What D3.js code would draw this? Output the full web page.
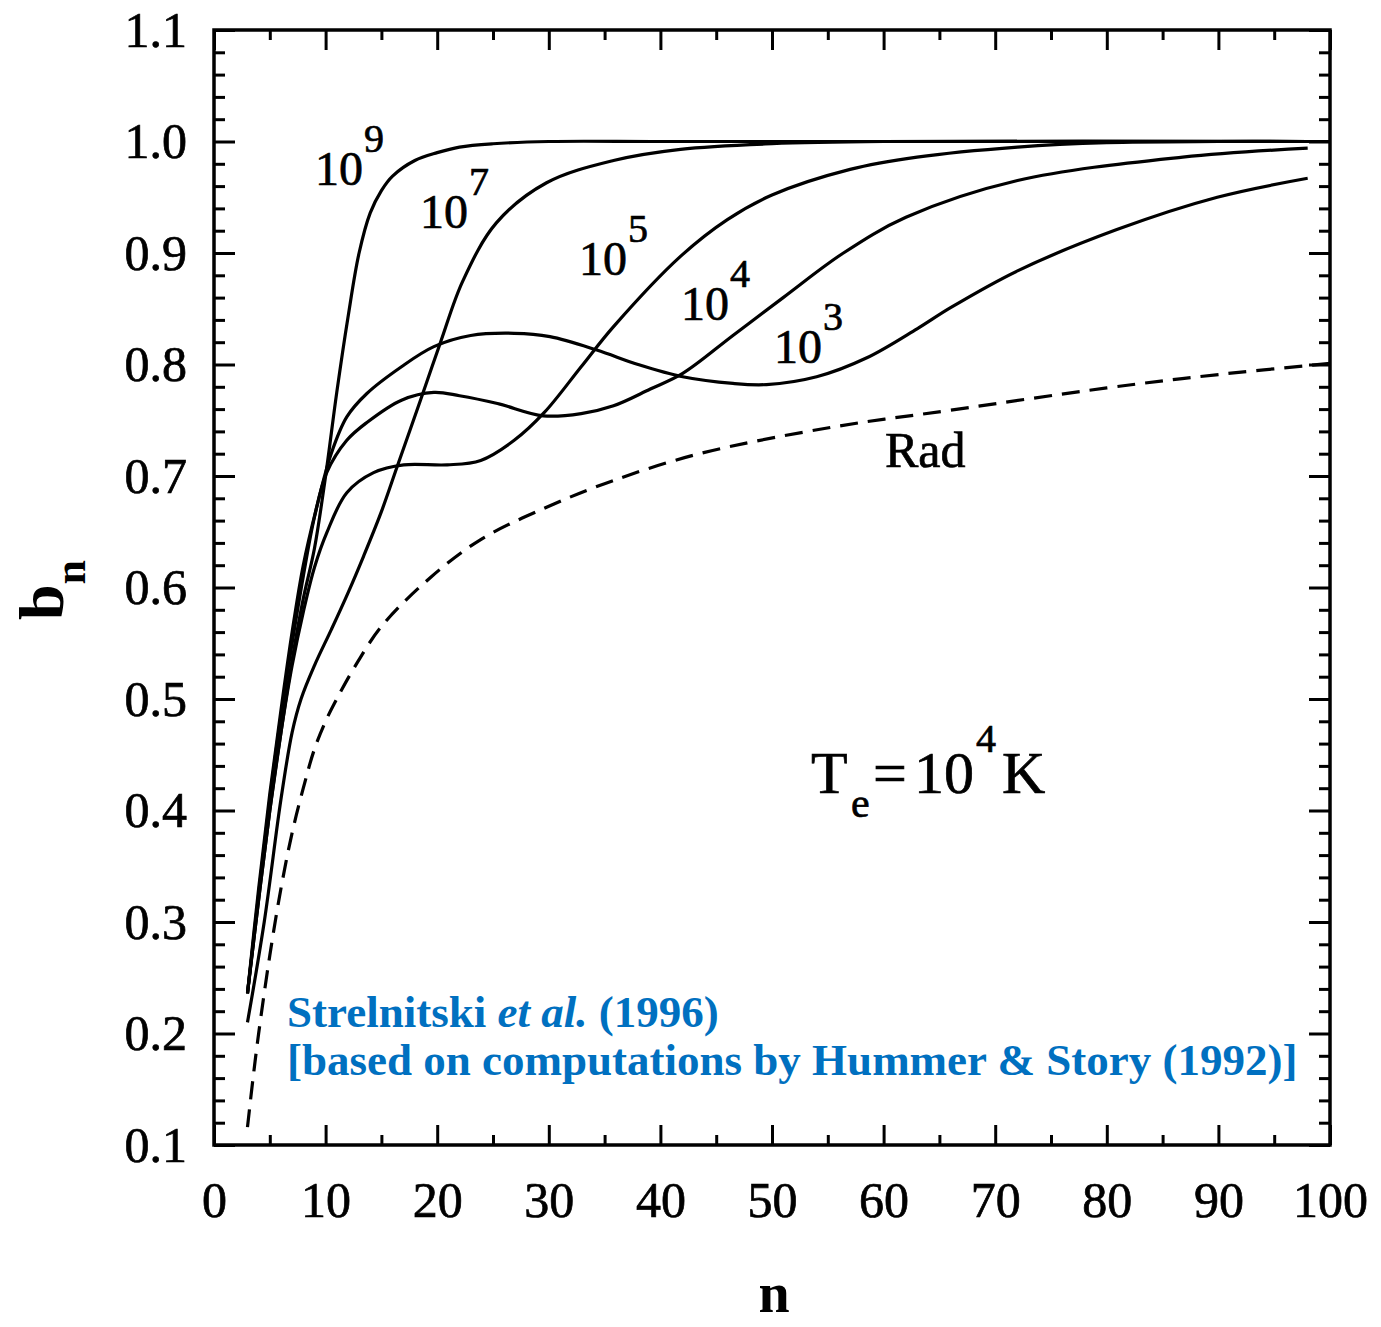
<!DOCTYPE html>
<html lang="en">
<head>
<meta charset="UTF-8">
<title>b_n vs n</title>
<script src="https://cdn.jsdelivr.net/npm/d3@7"></script>
<style>
  body { margin: 0; background: #fff; }
  text { font-family: "Liberation Serif", "Times New Roman", serif; }
  .ink { stroke: #000; stroke-width: 0.7px; }
</style>
</head>
<body>
<div id="chart"></div>
<script>
// curve data (n, b_n)
const n9 = [3, 4, 5, 6, 7, 8, 9, 10, 11, 12, 13, 14, 15, 16, 18, 20, 22, 25, 30, 40, 60, 100];
const b9 = [0.236, 0.32, 0.40, 0.47, 0.535, 0.59, 0.635, 0.70, 0.775, 0.842, 0.9, 0.936, 0.956, 0.969, 0.983, 0.99, 0.995, 0.998, 1.0, 1.0, 1.0, 1.0];

const n7 = [3, 4.5, 6, 7, 7.8, 9, 10.5, 12, 13.4, 15, 16.4, 18.5, 20.3, 22.3, 25.3, 29.8, 35.8, 41.8, 50, 60, 98];
const b7 = [0.21, 0.30, 0.41, 0.47, 0.50, 0.53, 0.562, 0.595, 0.628, 0.668, 0.708, 0.768, 0.82, 0.875, 0.927, 0.963, 0.983, 0.993, 0.998, 1.0, 1.0];

const n5 = [3, 4, 5, 6, 7, 8, 9, 10.1, 11.9, 14.3, 17, 20.9, 23.9, 26.9, 29.6, 32.9, 35.8, 41.8, 46, 50, 57, 63, 72, 80, 90, 98];
const b5 = [0.236, 0.32, 0.40, 0.47, 0.53, 0.578, 0.618, 0.649, 0.685, 0.703, 0.71, 0.71, 0.714, 0.732, 0.757, 0.798, 0.834, 0.897, 0.93, 0.952, 0.975, 0.986, 0.995, 0.999, 1.0, 1.0];

const n4 = [3, 4, 5, 6, 7, 8, 9, 10.1, 11.9, 13.7, 16.8, 19.7, 22, 25.4, 29.5, 32.9, 35.8, 39.1, 42, 46.5, 51, 56.4, 62, 72, 86.8, 98];
const b4 = [0.236, 0.325, 0.41, 0.485, 0.55, 0.61, 0.663, 0.703, 0.732, 0.748, 0.768, 0.775, 0.772, 0.765, 0.754, 0.756, 0.763, 0.778, 0.792, 0.826, 0.86, 0.9, 0.932, 0.965, 0.986, 0.994];

const n3 = [3, 4, 5, 6, 7, 8, 9.2, 10.5, 11.9, 13.7, 16.8, 19.7, 23, 26.9, 30.1, 34.3, 38, 42, 46.5, 49.5, 54, 58.5, 63, 66, 72, 80.9, 89.9, 98];
const b3 = [0.236, 0.33, 0.415, 0.49, 0.56, 0.62, 0.672, 0.72, 0.753, 0.774, 0.798, 0.816, 0.826, 0.828, 0.825, 0.813, 0.80, 0.789, 0.783, 0.782, 0.789, 0.806, 0.832, 0.851, 0.884, 0.921, 0.95, 0.967];

const nRad = [3, 3.5, 4, 5, 6, 7, 8, 9, 10, 11, 12.5, 15, 19.4, 23.9, 29.8, 35.8, 43.5, 55.5, 66, 80, 90, 100];
const bRad = [0.116, 0.16, 0.2, 0.27, 0.33, 0.38, 0.42, 0.455, 0.48, 0.50, 0.527, 0.565, 0.609, 0.643, 0.672, 0.696, 0.72, 0.744, 0.759, 0.779, 0.791, 0.801];

const xTicks = [0, 10, 20, 30, 40, 50, 60, 70, 80, 90, 100];
const yTicks = [0.1, 0.2, 0.3, 0.4, 0.5, 0.6, 0.7, 0.8, 0.9, 1.0, 1.1];

const W = 1381, H = 1327;
const svg = d3.select("#chart").append("svg")
    .attr("width", W)
    .attr("height", H);

const x = d3.scaleLinear().domain([0, 100]).range([214, 1330]);
const y = d3.scaleLinear().domain([0.1, 1.1]).range([1145, 30]);

// minor ticks
const xMinor = d3.range(5, 100, 10);
const yMinor = d3.range(0.12, 1.1, 0.02).filter(v => Math.abs(v * 10 - Math.round(v * 10)) > 0.01);

function styleAxis(g) {
    g.select(".domain").remove();
    g.selectAll("line").attr("stroke", "#000").attr("stroke-width", 3);
}
function styleLabels(g) {
    g.selectAll("text")
        .attr("font-size", 50)
        .attr("font-family", "Liberation Serif")
        .attr("fill", "#000")
        .attr("class", "ink");
}

// bottom
svg.append("g").attr("transform", "translate(0,1145)")
    .call(d3.axisBottom(x).tickValues(xTicks).tickSize(-20).tickPadding(36).tickFormat(d3.format("d")))
    .call(styleAxis)
    .call(styleLabels);
svg.append("g").attr("transform", "translate(0,1145)")
    .call(d3.axisBottom(x).tickValues(xMinor).tickSize(-10).tickFormat(""))
    .call(styleAxis);
// top
svg.append("g").attr("transform", "translate(0,30)")
    .call(d3.axisTop(x).tickValues(xTicks).tickSize(-20).tickFormat(""))
    .call(styleAxis);
svg.append("g").attr("transform", "translate(0,30)")
    .call(d3.axisTop(x).tickValues(xMinor).tickSize(-10).tickFormat(""))
    .call(styleAxis);
// left
svg.append("g").attr("transform", "translate(214,0)")
    .call(d3.axisLeft(y).tickValues(yTicks).tickSize(-21).tickPadding(27).tickFormat(d3.format(".1f")))
    .call(styleAxis)
    .call(styleLabels);
svg.append("g").attr("transform", "translate(214,0)")
    .call(d3.axisLeft(y).tickValues(yMinor).tickSize(-11).tickFormat(""))
    .call(styleAxis);
// right
svg.append("g").attr("transform", "translate(1330,0)")
    .call(d3.axisRight(y).tickValues(yTicks).tickSize(-21).tickFormat(""))
    .call(styleAxis);
svg.append("g").attr("transform", "translate(1330,0)")
    .call(d3.axisRight(y).tickValues(yMinor).tickSize(-11).tickFormat(""))
    .call(styleAxis);

// frame
svg.append("rect")
    .attr("x", x(0)).attr("y", y(1.1))
    .attr("width", x(100) - x(0)).attr("height", y(0.1) - y(1.1))
    .attr("fill", "none").attr("stroke", "#000").attr("stroke-width", 3.5);

const line = d3.line()
    .x(d => x(d[0]))
    .y(d => y(d[1]))
    .curve(d3.curveCatmullRom.alpha(0.5));

const series = [
    [n9, b9, null],
    [n7, b7, null],
    [n5, b5, null],
    [n4, b4, null],
    [n3, b3, null],
    [nRad, bRad, "18,10"]
];

series.forEach(s => {
    svg.append("path")
        .datum(d3.zip(s[0], s[1]))
        .attr("d", line)
        .attr("fill", "none")
        .attr("stroke", "#000")
        .attr("stroke-width", 3.2)
        .attr("stroke-dasharray", s[2]);
});

// curve labels
const labels = [
    { x: 315, y: 185, sup: "9" },
    { x: 420, y: 228, sup: "7" },
    { x: 579, y: 275, sup: "5" },
    { x: 681, y: 320, sup: "4" },
    { x: 774, y: 363, sup: "3" }
];
labels.forEach(l => {
    const t = svg.append("text").attr("x", l.x).attr("y", l.y)
        .attr("font-size", 48).attr("fill", "#000").attr("class", "ink");
    t.append("tspan").text("10");
    t.append("tspan").attr("dx", 1).attr("dy", -33).attr("font-size", 40).text(l.sup);
});

svg.append("text").attr("x", 885).attr("y", 467)
    .attr("font-size", 50).attr("fill", "#000").attr("class", "ink").text("Rad");

// T_e = 10^4 K
const te = svg.append("text").attr("font-size", 60).attr("fill", "#000").attr("class", "ink");
te.append("tspan").attr("x", 811).attr("y", 793).text("T");
te.append("tspan").attr("x", 851).attr("y", 817).attr("font-size", 42).text("e");
te.append("tspan").attr("x", 873).attr("y", 793).text("=");
te.append("tspan").attr("x", 914).attr("y", 793).text("10");
te.append("tspan").attr("x", 976).attr("y", 752).attr("font-size", 40).text("4");
te.append("tspan").attr("x", 1002).attr("y", 793).text("K");

// axis titles
svg.append("text").attr("x", 774).attr("y", 1312)
    .attr("text-anchor", "middle").attr("font-size", 56).attr("font-weight", "bold")
    .attr("fill", "#000").text("n");

const yl = svg.append("text")
    .attr("transform", "translate(63,620) rotate(-90)")
    .attr("font-size", 64).attr("font-weight", "bold").attr("fill", "#000");
yl.append("tspan").text("b");
yl.append("tspan").attr("dy", 22).attr("font-size", 44).text("n");

// citation
const blue = "#0070c0";
const c1 = svg.append("text").attr("x", 287).attr("y", 1027)
    .attr("font-size", 45).attr("font-weight", "bold").attr("fill", blue);
c1.append("tspan").text("Strelnitski ");
c1.append("tspan").attr("font-style", "italic").text("et al.");
c1.append("tspan").text(" (1996)");
svg.append("text").attr("x", 287).attr("y", 1075)
    .attr("font-size", 45).attr("font-weight", "bold").attr("fill", blue)
    .text("[based on computations by Hummer & Story (1992)]");
</script>
</body>
</html>
